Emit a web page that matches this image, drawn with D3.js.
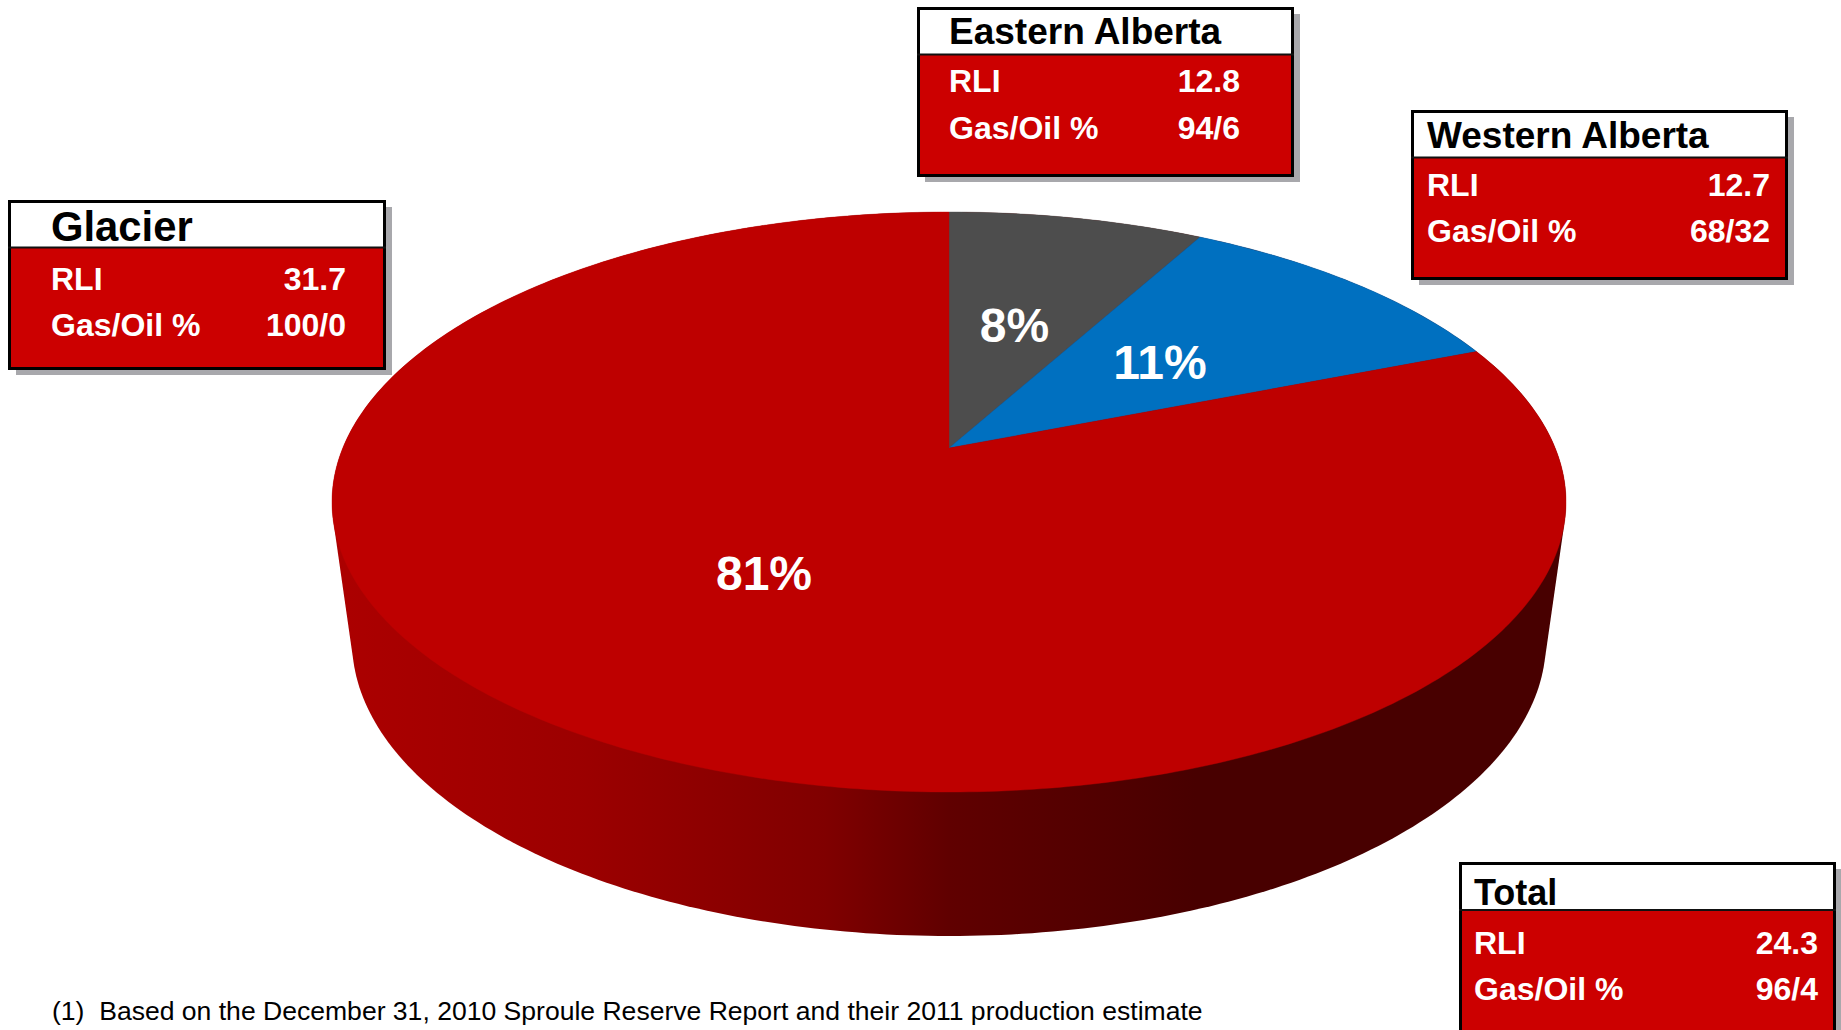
<!DOCTYPE html>
<html><head><meta charset="utf-8">
<script src="https://cdn.jsdelivr.net/npm/d3@7/dist/d3.min.js"></script>
<style>html,body{margin:0;padding:0;background:#fff;overflow:hidden}svg{display:block}text{font-family:"Liberation Sans",Arial,sans-serif}</style>
</head><body><svg id="c" width="1841" height="1030"></svg>
<script>
// ---- data ----
const regions = ["Eastern Alberta","Western Alberta","Glacier"];
const shares = [8,11,81];
const shareLabels = ["8%","11%","81%"];
const sliceColors = ["#4D4D4D","#0070C0","#BE0000"];
const boxNames = ["Eastern Alberta","Western Alberta","Glacier","Total"];
const rliValues = ["12.8","12.7","31.7","24.3"];
const gasOilValues = ["94/6","68/32","100/0","96/4"];
const rowLabels = ["RLI","Gas/Oil %"];
const footnote = "(1)  Based on the December 31, 2010 Sproule Reserve Report and their 2011 production estimate";

// ---- layout ----
const top_ = {cx:949, cy:502, rx:617, ry:290};
const bottom_ = {cx:949, cy:641, rx:597, ry:295};
const apexY = 448;
const k = (top_.cy-apexY)/top_.ry;
const boxLayout = [
 {x:917,y:7,r:1294,b:177,d:54.5,tx:949,tb:44,tf:37,vx:1240,b1:92,b2:139},
 {x:1411,y:110,r:1788,b:280,d:157.5,tx:1427,tb:148,tf:37,vx:1770,b1:196,b2:242},
 {x:8,y:200,r:386,b:370,d:247.5,tx:51,tb:241,tf:41.8,vx:346,b1:290,b2:336},
 {x:1459,y:862,r:1836,b:1033,d:910,tx:1474,tb:905,tf:36,vx:1818,b1:954,b2:1000}
];
const labelPos = [{x:1014.5,y:342},{x:1160,y:379},{x:764,y:590}];

const svg = d3.select("#c");
const X = d3.scaleLinear().domain([-1,1]).range([top_.cx-top_.rx, top_.cx+top_.rx]);
const Y = d3.scaleLinear().domain([-1,1]).range([top_.cy-top_.ry, top_.cy+top_.ry]);
// Perspective of a flat disc: its centre lands off the ellipse's centre.
function project(a){
  const u=Math.sin(a), v=-Math.cos(a), w=1-k*v;
  return [X(u*Math.sqrt(1-k*k)/w), Y((v-k)/w)];
}
// ---- side wall ----
const wallX = d3.scaleLinear().domain([0,.2,.4,.5,.7,1]).range(["#AC0000","#9C0000","#800000","#600000","#480000","#480000"]);
const defs = svg.append("defs");
const grad = defs.append("linearGradient").attr("id","wall").attr("gradientUnits","userSpaceOnUse")
  .attr("x1",top_.cx-top_.rx).attr("x2",top_.cx+top_.rx).attr("y1",0).attr("y2",0);
d3.range(0,1.001,.1).forEach(t=>grad.append("stop").attr("offset",t).attr("stop-color",wallX(t)));
const ell = e=>d3.range(0,360,1).map(d=>{const a=d*Math.PI/180;return [e.cx+e.rx*Math.cos(a),e.cy+e.ry*Math.sin(a)];});
const hull = d3.polygonHull(ell(top_).concat(ell(bottom_)));
svg.append("path").attr("d",d3.line()(hull)+"Z").attr("fill","url(#wall)");

// ---- top face ----
const pie = d3.pie().sort(null)(shares);
const line = d3.line();
svg.selectAll("path.slice").data(pie).join("path").attr("class","slice")
 .attr("fill",(d,i)=>sliceColors[i])
 .attr("stroke",(d,i)=>sliceColors[i]).attr("stroke-width",.4)
 .attr("d",d=>{
   const n=Math.max(8,Math.ceil((d.endAngle-d.startAngle)*80));
   const pts=d3.range(n+1).map(i=>project(d.startAngle+(d.endAngle-d.startAngle)*i/n));
   return line([[X(0),apexY],...pts])+"Z";
 });
svg.selectAll("text.pct").data(shareLabels).join("text").attr("class","pct")
 .attr("x",(d,i)=>labelPos[i].x).attr("y",(d,i)=>labelPos[i].y)
 .attr("text-anchor","middle").attr("fill","#fff").attr("font-weight","700").attr("font-size",48)
 .text(d=>d);

// ---- call-out boxes ----
const box = svg.selectAll("g.box").data(boxNames).join("g").attr("class","box");
box.each(function(name,i){
  const g=d3.select(this), L=boxLayout[i];
  g.append("rect").attr("x",L.x+8).attr("y",L.y+7).attr("width",L.r-L.x-2).attr("height",L.b-L.y-2).attr("fill","#A8A8AC");
  g.append("rect").attr("x",L.x+1.5).attr("y",L.y+1.5).attr("width",L.r-L.x-3).attr("height",L.d-L.y).attr("fill","#fff");
  g.append("rect").attr("x",L.x+1.5).attr("y",L.d).attr("width",L.r-L.x-3).attr("height",L.b-L.d-1.5).attr("fill","#CC0000");
  g.append("rect").attr("x",L.x+1.5).attr("y",L.y+1.5).attr("width",L.r-L.x-3).attr("height",L.b-L.y-3).attr("fill","none").attr("stroke","#000").attr("stroke-width",3);
  g.append("line").attr("x1",L.x).attr("x2",L.r).attr("y1",L.d).attr("y2",L.d).attr("stroke","#111").attr("stroke-width",2);
  g.append("text").attr("x",L.tx).attr("y",L.tb).attr("font-weight","700").attr("font-size",L.tf).attr("fill","#000").text(name);
  [[rowLabels[0],rliValues[i],L.b1],[rowLabels[1],gasOilValues[i],L.b2]].forEach(r=>{
    g.append("text").attr("x",L.tx).attr("y",r[2]).attr("font-weight","700").attr("font-size",32).attr("fill","#fff").text(r[0]);
    g.append("text").attr("x",L.vx).attr("y",r[2]).attr("text-anchor","end").attr("font-weight","700").attr("font-size",32).attr("fill","#fff").text(r[1]);
  });
});
svg.append("text").attr("x",52).attr("y",1020).attr("font-size",26.55).attr("fill","#000").attr("xml:space","preserve").style("white-space","pre").text(footnote);
</script></body></html>
